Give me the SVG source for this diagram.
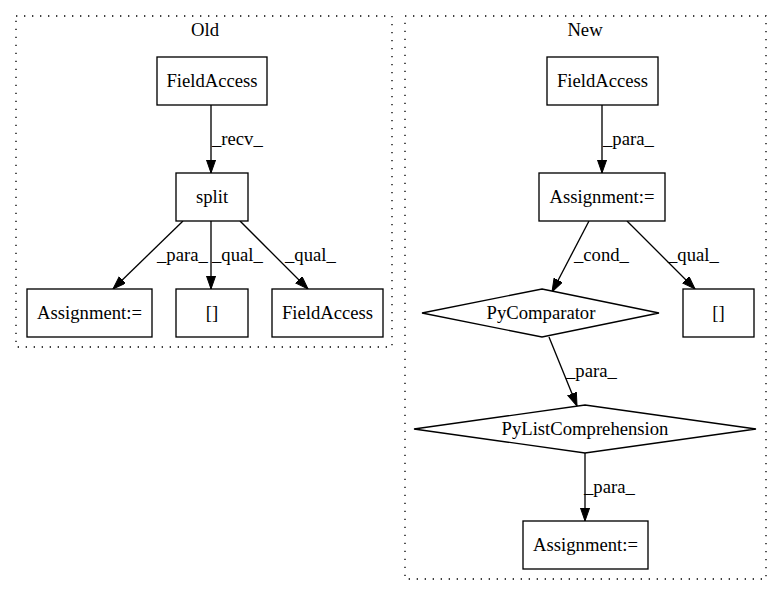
<svg xmlns="http://www.w3.org/2000/svg" width="781" height="596" viewBox="0 0 781 596">
<style>
text{font-family:"Liberation Serif","Times New Roman",serif;font-size:18.67px;fill:#000}
.n{fill:#fff;stroke:#000;stroke-width:1.33}
.c{fill:none;stroke:#000;stroke-width:1.33;stroke-dasharray:1.33,6.67}
.e{fill:none;stroke:#000;stroke-width:1.33;marker-end:url(#arr)}
.m{text-anchor:middle}
</style>
<defs>
<marker id="arr" markerUnits="userSpaceOnUse" markerWidth="14" markerHeight="10" refX="13.3" refY="4.7" orient="auto">
<path d="M0,0 L13.3,4.7 L0,9.3 z" fill="#000" stroke="#000" stroke-width="1"/>
</marker>
</defs>
<rect width="781" height="596" fill="#fff"/>
<g id="cluster_old">
<rect class="c" x="16" y="16" width="376" height="331"/>
<text class="m" x="205" y="36">Old</text>
</g>
<g id="cluster_new">
<rect class="c" x="405" y="16" width="361" height="563"/>
<text class="m" x="585" y="36">New</text>
</g>
<g id="connectors">
<path class="e" d="M211,105 L211,173"/>
<text x="212" y="145">_recv_</text>
<path class="e" d="M183,221 L113,289"/>
<text x="157" y="261">_para_</text>
<path class="e" d="M211,221 L211,289"/>
<text x="212" y="261">_qual_</text>
<path class="e" d="M240,221 L308,289"/>
<text x="285" y="261">_qual_</text>
<path class="e" d="M602,105 L602,173"/>
<text x="603" y="145">_para_</text>
<path class="e" d="M589,221 L552,292"/>
<text x="574" y="261">_cond_</text>
<path class="e" d="M627,221 L695,289"/>
<text x="668" y="261">_qual_</text>
<path class="e" d="M549,337 L577,406"/>
<text x="566" y="377">_para_</text>
<path class="e" d="M585,453 L585,521"/>
<text x="584" y="493">_para_</text>
</g>
<g id="old_fieldaccess1"><rect class="n" x="157" y="57" width="110" height="48"/><text class="m" x="212" y="86.6">FieldAccess</text></g>
<g id="old_split"><rect class="n" x="176" y="173" width="72" height="48"/><text class="m" x="212" y="202.6">split</text></g>
<g id="old_assignment"><rect class="n" x="27" y="289" width="125" height="48"/><text class="m" x="89.5" y="318.6">Assignment:=</text></g>
<g id="old_index"><rect class="n" x="176" y="289" width="72" height="48"/><text class="m" x="212" y="318.6">[]</text></g>
<g id="old_fieldaccess2"><rect class="n" x="272" y="289" width="111" height="48"/><text class="m" x="327.5" y="318.6">FieldAccess</text></g>
<g id="new_fieldaccess"><rect class="n" x="547" y="57" width="111" height="48"/><text class="m" x="602.5" y="86.6">FieldAccess</text></g>
<g id="new_assignment1"><rect class="n" x="539" y="173" width="126" height="48"/><text class="m" x="602" y="202.6">Assignment:=</text></g>
<g id="new_pycomparator"><polygon class="n" points="542,289 659,313 542,337 422,313"/><text class="m" x="541" y="318.6">PyComparator</text></g>
<g id="new_index"><rect class="n" x="683" y="289" width="71" height="48"/><text class="m" x="718.5" y="318.6">[]</text></g>
<g id="new_pylistcomp"><polygon class="n" points="585,405 756,429 585,453 414,429"/><text class="m" x="585" y="434.6">PyListComprehension</text></g>
<g id="new_assignment2"><rect class="n" x="523" y="521" width="125" height="48"/><text class="m" x="585.5" y="550.6">Assignment:=</text></g>
</svg>
